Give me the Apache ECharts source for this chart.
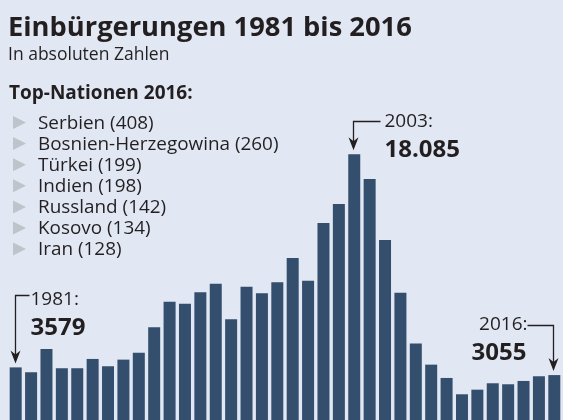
<!DOCTYPE html>
<html>
<head>
<meta charset="utf-8">
<script src="https://cdn.jsdelivr.net/npm/echarts@6/dist/echarts.min.js"></script>
<style>
html,body{margin:0;padding:0;background:#e1e8f4;}
#c{width:563px;height:420px;}
</style>
</head>
<body>
<div id="c"></div>
<script>
const years = ['1981','1982','1983','1984','1985','1986','1987','1988','1989','1990',
  '1991','1992','1993','1994','1995','1996','1997','1998','1999','2000',
  '2001','2002','2003','2004','2005','2006','2007','2008','2009','2010',
  '2011','2012','2013','2014','2015','2016'];
const naturalisations = [3579,3248,4835,3521,3521,4154,3657,4107,4583,6313,
  8036,7900,8697,9262,6858,9057,8628,9378,11012,9466,
  13396,14689,18085,16392,12238,8649,5196,3766,2860,1750,
  2063,2499,2431,2656,2976,3055];
const nations = ['Serbien','Bosnien-Herzegowina','Türkei','Indien','Russland','Kosovo','Iran'];
const nationCounts = [408,260,199,198,142,134,128];
const titleText = 'Einbürgerungen 1981 bis 2016';
const subtitleText = 'In absoluten Zahlen';
const listTitle = 'Top-Nationen 2016:';
const callouts = [
  {year:'1981', label:'3579'},
  {year:'2003', label:'18.085'},
  {year:'2016', label:'3055'}
];

const FONT = '"Open Sans", "Noto Sans", sans-serif';
const DARK = '#231f20';
const chart = echarts.init(document.getElementById('c'), null, {renderer:'canvas'});

chart.setOption({
  backgroundColor: '#e1e8f4',
  animation: false,
  grid: {left: 8, right: 1, top: 126, bottom: 0, containLabel: false},
  xAxis: {
    type: 'category', data: years,
    axisLine: {show:false}, axisTick: {show:false}, axisLabel: {show:false}, splitLine:{show:false}
  },
  yAxis: {
    type: 'value', min: 0, max: 20000,
    axisLine: {show:false}, axisTick: {show:false}, axisLabel: {show:false}, splitLine:{show:false}
  },
  series: [{
    type: 'bar', data: naturalisations, barWidth: 12,
    itemStyle: {color: '#344e6d'}
  }]
});

function txt(x, y, text, size, weight, align) {
  return {type:'text', x:x, y:y, silent:true,
    style:{text:text, fontFamily:FONT, fontSize:size, fontWeight:weight||'normal',
      fill:DARK, align:align||'left', verticalAlign:'middle'}};
}
function line(points) {
  return {type:'polyline', silent:true, shape:{points:points},
    style:{stroke:DARK, lineWidth:1.3, fill:null}};
}
function arrowHead(x, tipY) {
  return {type:'polygon', silent:true,
    shape:{points:[[x, tipY],[x-5, tipY-13],[x, tipY-9],[x+5, tipY-13]]},
    style:{fill:DARK}};
}

const g = [];
g.push(txt(8, 28, titleText, 27.3, 'bold'));
g.push(txt(8, 55, subtitleText, 17.5, 'normal'));
g.push(txt(9, 94, listTitle, 19, 'bold'));
nations.forEach((n, i) => {
  const cy = 123 + i * 21.1;
  g.push({type:'polygon', silent:true,
    shape:{points:[[13, cy-7],[26, cy-0.5],[13, cy+6]]}, style:{fill:'#bfc3ca'}});
  g.push(txt(38, cy + 0.5, n + ' (' + nationCounts[i] + ')', 18.9, 'normal'));
});

// callout 1981
{
  const idx = years.indexOf(callouts[0].year);
  const p = chart.convertToPixel({seriesIndex:0}, [idx, naturalisations[idx]]);
  const x = Math.round(p[0]) - 0.5, top = 295.5, tip = p[1] - 4;
  g.push(line([[x+14, top],[x, top],[x, tip-6]]));
  g.push(arrowHead(x, tip));
  g.push(txt(x+15, 300, callouts[0].year + ':', 19, 'normal'));
  g.push(txt(x+15, 328, callouts[0].label, 24, 'bold'));
}
// callout 2003
{
  const idx = years.indexOf(callouts[1].year);
  const p = chart.convertToPixel({seriesIndex:0}, [idx, naturalisations[idx]]);
  const x = Math.round(p[0]) - 0.5, top = 121.5, tip = p[1] - 4;
  g.push(line([[x+27, top],[x, top],[x, tip-6]]));
  g.push(arrowHead(x, tip));
  g.push(txt(x+31, 122, callouts[1].year + ':', 19, 'normal'));
  g.push(txt(x+31, 150, callouts[1].label, 24, 'bold'));
}
// callout 2016
{
  const idx = years.indexOf(callouts[2].year);
  const p = chart.convertToPixel({seriesIndex:0}, [idx, naturalisations[idx]]);
  const x = Math.round(p[0]) - 0.5, top = 325.5, tip = p[1] - 4;
  g.push(line([[x-26, top],[x, top],[x, tip-6]]));
  g.push(arrowHead(x, tip));
  g.push(txt(x-26, 325, callouts[2].year + ':', 19, 'normal', 'right'));
  g.push(txt(x-27, 353, callouts[2].label, 24, 'bold', 'right'));
}

chart.setOption({graphic: g});
</script>
</body>
</html>
